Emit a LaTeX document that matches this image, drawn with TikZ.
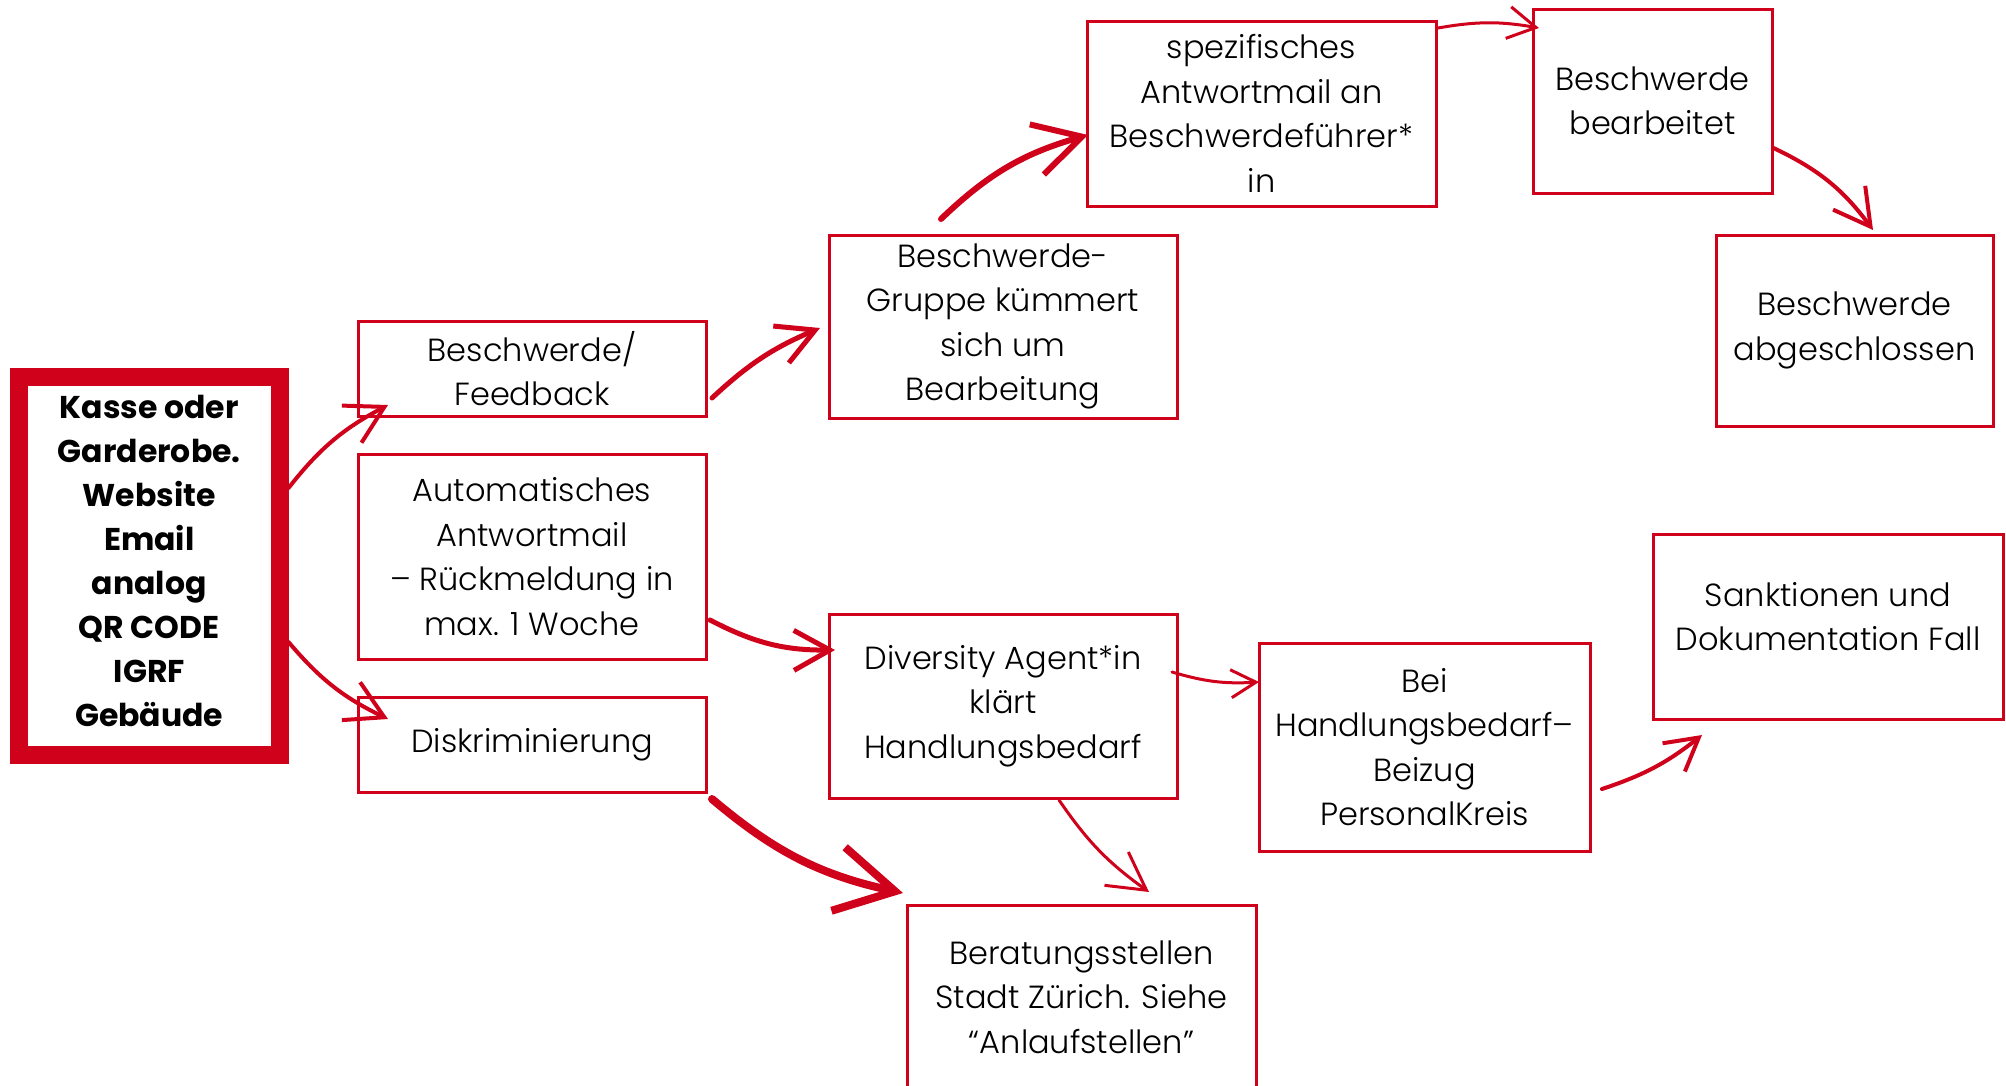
\documentclass[tikz,border=0pt]{standalone}
\usepackage{fontspec}
\setmainfont{Poppins}[UprightFont=* Light,BoldFont=* Bold]
\usetikzlibrary{arrows.meta}
\definecolor{rot}{RGB}{208,2,27}
\tikzset{
  kasten/.style={draw=rot,line width=3pt,inner sep=0pt,align=center,
    font=\fontsize{32}{44.5}\selectfont},
  pfeil/.style={draw=rot,line width=#1,line cap=round},
  spitze/.style 2 args={-{Straight Barb[length=#1,width=#2]}}
}

\begin{document}
\begin{tikzpicture}[x=1pt,y=1pt]
  \useasboundingbox (0,0) rectangle (2006,-1085);
  % Eingang
  \node[kasten,line width=18pt,minimum width=260.5pt,minimum height=378pt,
    font=\fontsize{31.5}{44}\selectfont\bfseries] (quelle) at (149.25,-566)
    {Kasse oder\\Garderobe.\\Website\\Email\\analog\\QR CODE\\IGRF\\Gebäude\\[-34pt]};
  % erste Spalte
  \node[kasten,minimum width=348pt,minimum height=95pt] (feedback) at (532,-368.5) {Beschwerde/\\Feedback};
  \node[kasten,minimum width=348pt,minimum height=205pt] (automail) at (532,-556.5)
    {Automatisches\\Antwortmail\\– Rückmeldung in\\max. 1 Woche};
  \node[kasten,minimum width=348pt,minimum height=95pt] (diskr) at (532,-744.5) {Diskriminierung};
  % oberer Weg
  \node[kasten,minimum width=348pt,minimum height=183pt] (gruppe) at (1003,-326.5)
    {Beschwerde-\\Gruppe kümmert\\sich um\\Bearbeitung};
  \node[kasten,minimum width=349pt,minimum height=185pt] (spezmail) at (1261.5,-113.5)
    {spezifisches\\Antwortmail an\\Beschwerdeführer*\\in};
  \node[kasten,minimum width=239pt,minimum height=184pt] (bearbeitet) at (1652.5,-101) {Beschwerde\\bearbeitet};
  \node[kasten,minimum width=277pt,minimum height=191pt] (abgeschl) at (1854.5,-330.5) {Beschwerde\\abgeschlossen};
  % unterer Weg
  \node[kasten,minimum width=348pt,minimum height=184pt] (diversity) at (1003,-706)
    {Diversity Agent*in\\klärt\\Handlungsbedarf};
  \node[kasten,minimum width=331pt,minimum height=208pt] (handlung) at (1424.5,-747)
    {Bei\\Handlungsbedarf–\\Beizug\\PersonalKreis};
  \node[kasten,minimum width=350pt,minimum height=185pt] (sanktion) at (1828,-626.5)
    {Sanktionen und\\Dokumentation Fall\\[-24pt]};
  \node[kasten,minimum width=349pt,minimum height=184pt] (beratung) at (1081.5,-997)
    {Beratungsstellen\\Stadt Zürich. Siehe\\“Anlaufstellen”};

  % Pfeile
  \draw[pfeil=4pt,spitze={37pt}{42pt}] ([yshift=78pt]quelle.east) to[bend left=12]
    ([xshift=31.5pt,yshift=12.5pt]feedback.south west);
  \draw[pfeil=4pt,spitze={37pt}{42pt}] ([yshift=-76pt]quelle.east) to[bend right=12]
    ([xshift=31.5pt,yshift=-23.5pt]diskr.north west);
  \draw[pfeil=5pt,spitze={37pt}{40pt}] ([xshift=4.5pt,yshift=-29.5pt]feedback.east) to[bend left=10]
    ([xshift=-7.5pt,yshift=-1.5pt]gruppe.west);
  \draw[pfeil=5pt,spitze={36pt}{40pt}] ([xshift=2.5pt,yshift=-63.5pt]automail.east) to[bend right=14]
    ([xshift=7.5pt,yshift=56pt]diversity.west);
  \draw[pfeil=8pt,spitze={58pt}{65pt}] ([xshift=4.5pt,yshift=-5.5pt]diskr.south east) to[bend right=14]
    ([xshift=-2.5pt,yshift=10.5pt]beratung.north west);
  \draw[pfeil=6pt,spitze={47pt}{52pt}] ([xshift=-62pt,yshift=14.5pt]gruppe.north) to[bend left=14]
    ([xshift=2.5pt,yshift=-21.5pt]spezmail.west);
  \draw[pfeil=3pt,spitze={28pt}{32pt}] ([xshift=.5pt,yshift=-8.5pt]spezmail.north east) to[bend left=10]
    ([xshift=7.5pt,yshift=-20.5pt]bearbeitet.north west);
  \draw[pfeil=4pt,spitze={36pt}{40pt}] ([yshift=-47pt]bearbeitet.east) to[bend left=14]
    ([xshift=18.5pt,yshift=3.5pt]abgeschl.north);
  \draw[pfeil=3pt,spitze={25pt}{28pt}] ([xshift=-6.5pt,yshift=34pt]diversity.east) to[bend right=10]
    ([xshift=1.5pt,yshift=65pt]handlung.west);
  \draw[pfeil=3pt,spitze={37pt}{41pt}] ([xshift=56pt,yshift=-.5pt]diversity.south) to[bend right=10]
    ([xshift=67.5pt,yshift=11.5pt]beratung.north);
  \draw[pfeil=4pt,spitze={32pt}{36pt}] ([xshift=10.5pt,yshift=-42pt]handlung.east) to[bend right=10]
    ([xshift=50.5pt,yshift=-14.5pt]sanktion.south west);
\end{tikzpicture}
\end{document}
